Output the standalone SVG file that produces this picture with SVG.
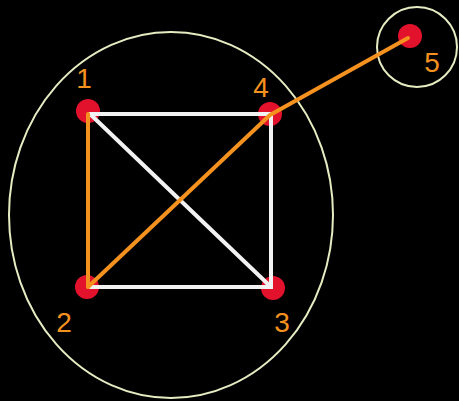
<svg xmlns="http://www.w3.org/2000/svg" width="459" height="401" viewBox="0 0 459 401">
<style>
.bound{fill:none;stroke:#e6ebc2;stroke-width:2}
.dot{fill:#e3122c}
.w{stroke:#f2f2f2;stroke-width:4;stroke-linecap:round;fill:none}
.o{stroke:#f5921f;stroke-width:4;stroke-linecap:round;stroke-linejoin:round;fill:none}
.lbl{font-family:"Liberation Sans",Arial,sans-serif;font-size:28px;fill:#f5921f;text-anchor:middle}
</style>
<rect width="459" height="401" fill="#000"/>
<ellipse class="bound" cx="171" cy="215" rx="162" ry="183"/>
<circle class="bound" cx="417" cy="47" r="40" stroke-width="3"/>
<g id="node1"><circle class="dot" cx="88" cy="111" r="12"/><text class="lbl" x="84" y="88">1</text></g>
<g id="node4"><circle class="dot" cx="270" cy="114" r="12"/><text class="lbl" x="261" y="97">4</text></g>
<g id="node2"><circle class="dot" cx="87" cy="287" r="12"/><text class="lbl" x="64" y="332">2</text></g>
<g id="node3"><circle class="dot" cx="273" cy="288" r="12"/><text class="lbl" x="282" y="332">3</text></g>
<g id="node5"><circle class="dot" cx="410" cy="36" r="12"/><text class="lbl" x="432" y="72">5</text></g>
<g id="connectors">
<path class="w" d="M90 114 H271 V287 H90"/>
<path class="w" d="M90 114 L271 287"/>
<path class="o" d="M88 114 V287"/>
<path class="o" d="M88 287 L270 115 L408 38"/>
</g>
</svg>
